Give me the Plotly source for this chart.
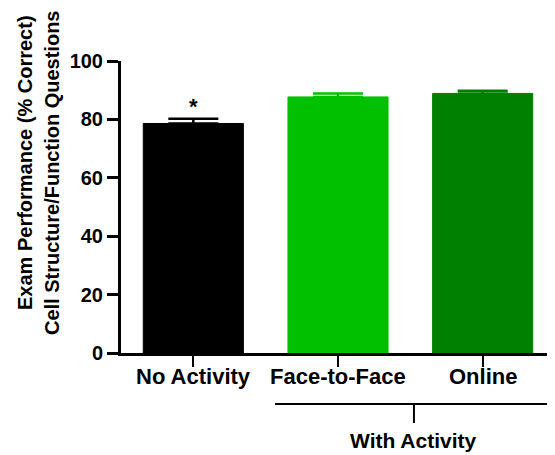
import plotly.graph_objects as go

categories = ["No Activity", "Face-to-Face", "Online"]
means = [78.6, 87.7, 88.9]
sem = [1.6, 1.2, 0.9]
colors = ["#000000", "#00C000", "#008000"]
y_ticks = [0, 20, 40, 60, 80, 100]
group_label = "With Activity"
significance = ["*", "", ""]

FONT = "Arial, Liberation Sans, sans-serif"

# page body has an 8px margin, so the figure is drawn 8px smaller
W, H = 547, 447
L, T = 113, 53
PH = 292

def py(v):
    """window pixel row -> paper fraction"""
    return (T + PH - (v - 8)) / PH

fig = go.Figure()
fig.add_trace(go.Bar(
    x=list(range(len(categories))),
    y=means,
    width=0.692,
    marker=dict(color=colors, line=dict(color=colors, width=1)),
    showlegend=False,
))
for i, (m, s, c) in enumerate(zip(means, sem, colors)):
    fig.add_trace(go.Scatter(
        x=[i], y=[m], mode="markers", marker=dict(size=1, opacity=0),
        error_y=dict(type="data", symmetric=False, array=[s], arrayminus=[0],
                     color=c, thickness=2.5, width=25),
        showlegend=False, hoverinfo="skip",
    ))

annotations = []
for i, (m, s, t) in enumerate(zip(means, sem, significance)):
    if t:
        annotations.append(dict(x=i, y=m + s, xref="x", yref="y", text="<b>%s</b>" % t,
                                showarrow=False, yanchor="bottom", yshift=-2,
                                font=dict(family=FONT, size=22, color="black")))

for i, c in enumerate(categories):
    annotations.append(dict(x=i, y=py(376), xref="x", yref="paper",
                            text="<b>%s</b>" % c, showarrow=False,
                            xanchor="center", yanchor="middle",
                            font=dict(family=FONT, size=22, color="black")))

annotations.append(dict(x=1.525, y=py(440), xref="x", yref="paper",
                        text="<b>%s</b>" % group_label, showarrow=False,
                        xanchor="center", yanchor="middle",
                        font=dict(family=FONT, size=21, color="black")))
annotations.append(dict(x=0, y=py(163), xref="paper", yref="paper", xshift=-(121 - 25),
                        text="<b>Exam Performance (% Correct)</b>", textangle=-90,
                        showarrow=False, xanchor="center", yanchor="middle",
                        font=dict(family=FONT, size=20, color="black")))
annotations.append(dict(x=0, y=py(173), xref="paper", yref="paper", xshift=-(121 - 52),
                        text="<b>Cell Structure/Function Questions</b>", textangle=-90,
                        showarrow=False, xanchor="center", yanchor="middle",
                        font=dict(family=FONT, size=20, color="black")))

shapes = [
    dict(type="line", xref="x", yref="paper", x0=0.565, x1=2.485, y0=py(404), y1=py(404),
         line=dict(color="black", width=2)),
    dict(type="line", xref="x", yref="paper", x0=1.525, x1=1.525, y0=py(404), y1=py(423),
         line=dict(color="black", width=2)),
]

fig.update_layout(
    width=W, height=H,
    margin=dict(l=L, r=0, t=T, b=H - T - PH),
    paper_bgcolor="white", plot_bgcolor="white",
    font=dict(family=FONT, color="black"),
    xaxis=dict(range=[-0.5, 2.5], tickmode="array",
               tickvals=list(range(len(categories))),
               showticklabels=False,
               ticks="outside", ticklen=11, tickwidth=2, tickcolor="black",
               showline=True, linecolor="black", linewidth=3,
               showgrid=False, zeroline=False),
    yaxis=dict(range=[0, 100], tickmode="array", tickvals=y_ticks,
               ticktext=["<b>%d</b>" % v for v in y_ticks],
               tickfont=dict(family=FONT, size=20, color="black"),
               ticks="outside", ticklen=11, tickwidth=2.5, tickcolor="black",
               showline=True, linecolor="black", linewidth=3,
               showgrid=False, zeroline=False),
    annotations=annotations,
    shapes=shapes,
)

fig.write_html("out.html")
